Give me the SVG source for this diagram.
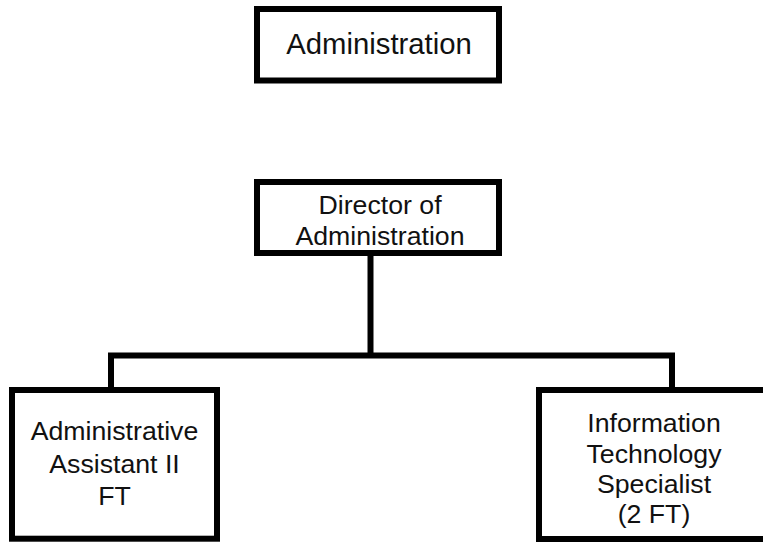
<svg xmlns="http://www.w3.org/2000/svg" width="763" height="542" viewBox="0 0 763 542">
<style>
.box{fill:#fff;stroke:#000;stroke-width:6}
.conn{fill:none;stroke:#000;stroke-width:6;stroke-linejoin:miter;stroke-linecap:butt}
text{font-family:"Liberation Sans",Arial,sans-serif;fill:#111;text-anchor:middle}
.big{font-size:29.3px}
.lbl{font-size:26.7px}
</style>
<rect width="763" height="542" fill="#fff"/>
<g id="connectors">
<path class="conn" d="M370.5 256 V355.5"/>
<path class="conn" d="M111 390 V355.5 H672 V390"/>
</g>
<g id="administration">
<rect class="box" x="257" y="9" width="242" height="71.5"/>
<text class="big" x="379" y="54.3">Administration</text>
</g>
<g id="director">
<rect class="box" x="257" y="182" width="242" height="71"/>
<text class="lbl" x="380" y="213.5">Director of</text>
<text class="lbl" x="380" y="245">Administration</text>
</g>
<g id="admin-assistant">
<rect class="box" x="12" y="390" width="205" height="148.7"/>
<text class="lbl" x="114.5" y="440">Administrative</text>
<text class="lbl" x="114.5" y="473">Assistant II</text>
<text class="lbl" x="114.5" y="504.5">FT</text>
</g>
<g id="it-specialist">
<rect class="box" x="539" y="390" width="240" height="149"/>
<text class="lbl" x="654" y="431.5">Information</text>
<text class="lbl" x="654" y="462.5">Technology</text>
<text class="lbl" x="654" y="493">Specialist</text>
<text class="lbl" x="654" y="523">(2 FT)</text>
</g>
</svg>
